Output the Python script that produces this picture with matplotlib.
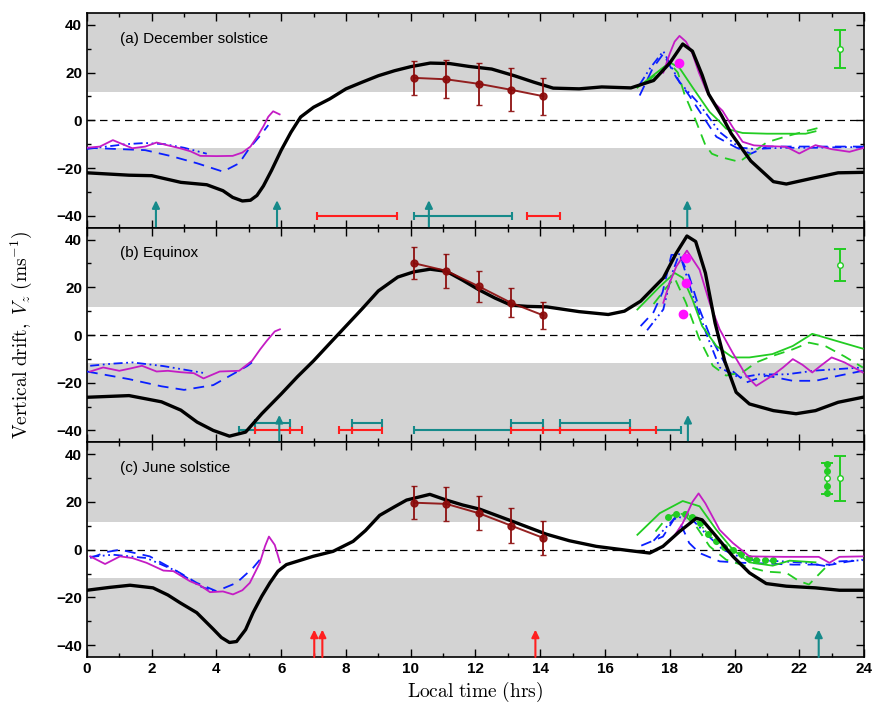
import matplotlib
matplotlib.use('Agg')
import matplotlib.pyplot as plt

plt.rcParams['font.family'] = ['Liberation Sans', 'DejaVu Sans']
plt.rcParams['mathtext.fontset'] = 'cm'
plt.rcParams['lines.solid_joinstyle'] = 'round'
plt.rcParams['lines.dash_joinstyle'] = 'round'

# ---------------- (a) December solstice ----------------
a_black_x = [0, 1.3, 2.0, 2.9, 3.7, 4.2, 4.5, 4.8, 5.05, 5.25, 5.45, 5.7, 6.0, 6.3, 6.6, 7.0, 7.5, 8.0, 8.5,
             9.0, 9.5, 10.0, 10.6, 11.2, 11.8, 12.5, 13.2, 13.8, 14.4, 15.2, 15.9, 16.8, 17.5, 18.0, 18.4,
             18.7, 19.0, 19.2, 19.6, 19.9, 20.5, 21.2, 21.6, 22.4, 23.2, 24]
a_black_v = [-22, -23, -23.2, -26, -27, -29.5, -32.3, -33.8, -33.5, -31.5, -27.5, -21, -12.5, -5, 1.4, 5.5,
             9, 13.2, 16, 18.7, 20.8, 22.5, 24, 23.8, 22.6, 21.5, 18.7, 16, 13.5, 13.2, 14, 13.6, 16.7, 24,
             32, 29, 19, 11, 2, -5.6, -17, -25.7, -26.7, -24.3, -22, -21.8]
a_mag_l_x = [0, 0.4, 0.8, 1.1, 1.4, 1.8, 2.15, 2.5, 2.9, 3.2, 3.5, 4.0, 4.5, 4.8, 5.05, 5.25, 5.45, 5.6, 5.75, 5.95]
a_mag_l_v = [-11.5, -11, -8.3, -10, -11.7, -11, -9.3, -10.5, -11.8, -13, -14.9, -15, -14.9, -13.5, -11, -7,
             -2.5, 1.5, 3.8, 2.5]
a_bdash_l_x = [0, 0.9, 1.8, 2.6, 3.4, 4.2, 4.7, 5.0, 5.4, 5.6]
a_bdash_l_v = [-11.5, -12, -12.5, -15, -18, -21.5, -18, -12, -5.6, -2]
a_bdd_l_x = [0, 0.6, 1.2, 1.8, 2.4, 3.0, 3.7]
a_bdd_l_v = [-12, -11, -10, -9.5, -10, -11.5, -14]
a_mag_r_x = [17.8, 18.0, 18.15, 18.3, 18.5, 18.7, 18.9, 19.13, 19.4, 19.63, 19.94, 20.25, 20.6, 21.0, 21.6,
             22.0, 22.5, 23.0, 23.55, 24]
a_mag_r_v = [20, 28, 33, 35.4, 33, 28, 20, 12.5, 7, 4, -2.8, -9, -10.5, -10.8, -11.1, -13.9, -10.4, -12.1,
             -13.2, -11.5]
a_gsol_x = [17.0, 17.5, 18.0, 18.3, 18.7, 19.0, 19.23, 19.5, 19.74, 20.25, 21.0, 21.6, 22.2, 22.5]
a_gsol_v = [13.7, 19, 24.3, 22, 13.9, 8, 3.5, 0, -3.5, -5.3, -5.6, -5.6, -5.6, -4.6]
a_gdash_x = [17.3, 17.7, 18.0, 18.25, 18.45, 18.8, 19.1, 19.3, 19.54, 20.15, 20.5, 21.0, 21.6, 22.1, 22.7]
a_gdash_v = [16, 21, 24, 20, 11.1, 0, -10.4, -14, -15.3, -17.4, -14, -9.2, -6.7, -4.9, -2.8]
a_bdash_r_x = [17.07, 17.47, 17.8, 18.2, 18.6, 18.9, 19.44, 20.05, 20.5, 21.0, 22.0, 23.0, 24]
a_bdash_r_v = [10.4, 21.7, 27.9, 18, 10.4, 4.2, -6.9, -11.4, -14, -11, -11, -11, -11]
a_bdd_r_x = [17.07, 17.4, 17.8, 18.3, 18.9, 19.54, 20.15, 20.6, 21.5, 22.5, 23.5, 24]
a_bdd_r_v = [15, 22, 29, 16, 7, -4.9, -11.4, -12, -11.5, -11.5, -11.2, -11.5]
a_dots_x = [18.3]
a_dots_v = [23.9]
a_err_v = [17.8, 17.2, 15.3, 12.8, 10.1]
a_err_e = [7, 8, 8.7, 9, 7.8]
a_sym = (23.26, 29.9, 8)
a_arrows_teal = [2.13, 5.87, 10.56, 18.54]
a_arrows_red = []
a_bars_lo_teal = [(10.09, 13.12)]
a_bars_lo_red = [(7.09, 9.57), (13.6, 14.6)]
a_bars_hi_teal = []

# ---------------- (b) Equinox ----------------
b_black_x = [0, 1.3, 2.3, 2.9, 3.4, 3.9, 4.4, 4.9, 5.4, 6.0, 6.5, 7.0, 7.5, 8.0, 8.5, 9.0, 9.6, 10.1, 10.6,
             11.1, 11.6, 12.1, 12.6, 13.1, 13.6, 14.2, 15.2, 16.1, 16.6, 17.1, 17.8, 18.2, 18.53, 18.8,
             19.1, 19.4, 19.7, 20.05, 20.46, 21.2, 21.9, 22.5, 23.2, 24]
b_black_v = [-26.1, -25.4, -28, -31.5, -36.5, -40, -42.4, -40.7, -33, -24.7, -17.5, -10.8, -3.5, 3.75, 11,
             18.5, 24.3, 26.5, 27.6, 26.7, 23, 19, 15.5, 12.5, 12, 11.8, 9.8, 8.6, 10, 14.2, 23.9, 34.3,
             41.5, 39.2, 26, 5, -11, -24, -28.9, -31.7, -33, -31.7, -28.2, -26]
b_mag_l_x = [0.1, 0.5, 1.0, 1.35, 1.7, 2.15, 2.5, 2.9, 3.3, 3.6, 4.1, 4.7, 5.1, 5.35, 5.55, 5.8, 5.96]
b_mag_l_v = [-15.3, -13.6, -15, -14, -12.9, -15.3, -15, -15.6, -16, -18.2, -15.3, -15, -10.8, -6, -2.5, 1.5, 2.4]
b_bdash_l_x = [0, 1.3, 2.3, 3.0, 3.9, 4.6, 4.95, 5.25]
b_bdash_l_v = [-15.3, -18.5, -21.5, -23, -21, -15.7, -13, -9.9]
b_bdd_l_x = [0.1, 0.8, 1.4, 2.35, 3.0, 3.6]
b_bdd_l_v = [-12.9, -12, -11.5, -13, -14.5, -15.9]
b_mag_r_x = [17.8, 18.0, 18.2, 18.53, 18.92, 19.23, 19.54, 19.94, 20.36, 20.67, 21.17, 21.5, 21.8, 22.1,
             22.4, 22.7, 23.0, 23.4, 23.96]
b_mag_r_v = [13.5, 22, 28.7, 35.4, 27.4, 13.5, 2.4, -7.4, -17, -21.3, -17, -13.6, -10.1, -12.5, -15.7,
             -12.5, -9.4, -11.5, -15.7]
b_gsol_x = [17.0, 17.7, 18.15, 18.4, 18.7, 19.0, 19.44, 19.94, 20.46, 21.17, 21.8, 22.4, 23.0, 23.96]
b_gsol_v = [10.7, 20.4, 26, 24, 14.9, 3.75, -4.6, -9.4, -9.4, -8, -4.6, 0.5, -1.9, -5.7]
b_gdash_x = [17.5, 17.9, 18.15, 18.5, 18.9, 19.33, 19.74, 20.25, 20.67, 21.17, 21.8, 22.3, 22.8, 23.4, 23.96]
b_gdash_v = [13, 20, 23.9, 13.5, -1.2, -12.9, -17, -15.6, -11.5, -8.8, -6, -3.2, -4.6, -9, -13.6]
b_bdash_r_x = [17.1, 17.5, 17.78, 18.05, 18.3, 18.6, 18.92, 19.23, 19.74, 20.36, 20.98, 21.8, 22.5, 23.24, 23.96]
b_bdash_r_v = [3.75, 9.6, 18, 33.6, 33.6, 24.6, 10.8, 0, -12.9, -19.9, -17, -19.2, -19.2, -17, -15]
b_bdd_r_x = [17.3, 17.8, 18.05, 18.3, 18.7, 19.13, 19.54, 20.15, 20.77, 21.6, 22.5, 23.96]
b_bdd_r_v = [2, 10.7, 25, 34.3, 17, 0.5, -13.6, -17.9, -16.5, -16.5, -14.9, -13.6]
b_dots_x = [18.5, 18.5, 18.4]
b_dots_v = [32.2, 21.8, 8.6]
b_err_v = [30.1, 26.9, 20.4, 13.5, 8.2]
b_err_e = [6.8, 7, 6.6, 6, 5.5]
b_sym = (23.26, 29.4, 6.7)
b_arrows_teal = [5.94, 18.56]
b_arrows_red = []
b_bars_lo_teal = [(4.69, 5.19), (10.09, 13.09), (17.58, 18.35)]
b_bars_lo_red = [(5.19, 6.27), (6.27, 6.63), (7.78, 8.2), (8.2, 9.1), (13.09, 14.1), (14.1, 14.6),
                 (14.6, 16.77), (16.77, 17.58)]
b_bars_hi_teal = [(5.19, 6.27), (8.2, 9.1), (13.09, 14.1), (14.6, 16.77)]

# ---------------- (c) June solstice ----------------
c_black_x = [0, 0.7, 1.33, 2.04, 2.5, 2.87, 3.39, 3.9, 4.15, 4.4, 4.62, 4.9, 5.13, 5.4, 5.65, 5.9, 6.16,
             6.98, 7.6, 8.22, 8.6, 9.04, 9.5, 9.87, 10.59, 11.1, 11.6, 12.13, 13.16, 14.19, 14.9, 15.73,
             16.76, 17.38, 17.79, 18.3, 18.82, 19.0, 19.44, 19.95, 20.46, 20.98, 21.6, 22.5, 23.24, 23.96]
c_black_v = [-17, -15.8, -14.9, -16, -19, -22.2, -26.4, -33.3, -36.8, -38.9, -38.5, -33.5, -26.4, -19.5,
             -13.9, -9, -6.25, -2.8, -0.7, 3.5, 8, 14.4, 18, 20.8, 23.2, 20.8, 18.75, 17, 11.8, 6.5, 3.75,
             1.4, -0.4, -1.4, 1.4, 7.6, 13.2, 12.5, 5.5, -2.8, -9.7, -14.2, -15.3, -16, -17, -17]
c_mag_l_x = [0.1, 0.56, 1.02, 1.4, 1.84, 2.36, 2.67, 3.18, 3.5, 3.8, 4.2, 4.51, 4.8, 5.03, 5.34, 5.5, 5.62,
             5.8, 5.96]
c_mag_l_v = [-2.8, -6, -2.8, -3.5, -5.5, -8.75, -9, -13.2, -15, -17.8, -17.5, -18.75, -17, -13.9, -5.5, 1.5,
             5.5, 2, -5.3]
c_bdash_l_x = [0.1, 0.6, 1.02, 1.94, 2.87, 3.39, 4.0, 4.62, 5.13, 5.34]
c_bdash_l_v = [-3.5, -1, 0, -2.8, -9.7, -13.9, -17.4, -13.9, -7.6, -4.2]
c_bdd_l_x = [0.1, 0.8, 1.84, 2.77, 3.49, 3.9]
c_bdd_l_v = [-3, -2.1, -3.5, -9, -15.3, -17.4]
c_mag_r_x = [17.79, 18.1, 18.4, 18.7, 18.89, 19.1, 19.54, 19.95, 20.46, 21.5, 22.6, 22.93, 23.24, 23.96]
c_mag_r_v = [1.4, 5, 11.1, 20, 23.6, 19.4, 8.3, 2.8, -2.8, -3, -3, -5.5, -3, -2.8]
c_gsol_x = [17.0, 17.69, 18.4, 18.92, 19.44, 19.95, 20.46, 21.18, 21.7, 22.5]
c_gsol_v = [6.25, 15.3, 20.4, 18.2, 8.3, 0, -5.3, -6.7, -4.6, -5.3]
c_gdash_x = [17.56, 17.94, 18.4, 18.82, 19.23, 19.74, 20.36, 20.98, 21.6, 22.0, 22.3, 22.6, 22.9]
c_gdash_v = [7.6, 13.9, 15.3, 9.7, 1.4, -4.2, -7, -9.2, -9.7, -13.2, -14.6, -10.4, -6.25]
c_gdot_x = [17.94, 18.2, 18.46, 18.69, 18.92, 19.18, 19.44, 19.69, 19.95, 20.21, 20.46, 20.67, 20.93, 21.18]
c_gdot_v = [13.9, 15, 15, 13.6, 11.1, 6.5, 3.5, 1.1, -0.3, -1.8, -3.5, -4.2, -4.4, -4.4]
c_bdash_r_x = [17.12, 17.79, 18.15, 18.35, 18.6, 18.92, 19.54, 20.25, 20.98, 21.8, 22.5, 23.0, 23.5, 23.96]
c_bdash_r_v = [1.7, 5.5, 13.2, 10.4, 2.8, -1.4, -4.9, -5.5, -5.8, -6.25, -6.25, -6.25, -5, -4.2]
c_bdd_r_x = [17.5, 18.2, 18.7, 19.1, 19.64, 20.36, 21.5, 22.2, 22.83, 23.24, 23.96]
c_bdd_r_v = [3.75, 13.9, 12.5, 6.9, 0, -4.2, -4.9, -5.5, -6.9, -4.9, -4.4]
c_err_v = [19.7, 19.2, 15.3, 10.1, 4.9]
c_err_e = [6.8, 7.2, 7.1, 7.3, 7.3]
c_sym = (23.26, 29.9, 9.5)
c_sym_dot = (22.86, 29.9, 6.5)
c_sym_dot_marks = [35.8, 32.9, 26.8, 23.9]
c_arrows_teal = [22.6]
c_arrows_red = [7.02, 7.27, 13.85]

err_x = [10.1, 11.1, 12.1, 13.1, 14.1]
titles = ['(a) December solstice', '(b) Equinox', '(c) June solstice']

TEAL = '#168a8a'
RED = '#ff1f1f'
BROWN = '#8b0a0a'
MAG = '#c41cc4'
BLUE = '#0a1fff'
GREEN = '#22cc22'
DD = (0, (5, 2, 1, 2, 1, 2))

panels = [
    dict(black=(a_black_x, a_black_v), mag_l=(a_mag_l_x, a_mag_l_v), bdash_l=(a_bdash_l_x, a_bdash_l_v),
         bdd_l=(a_bdd_l_x, a_bdd_l_v), mag_r=(a_mag_r_x, a_mag_r_v), gsol=(a_gsol_x, a_gsol_v),
         gdash=(a_gdash_x, a_gdash_v), bdash_r=(a_bdash_r_x, a_bdash_r_v), bdd_r=(a_bdd_r_x, a_bdd_r_v),
         dots=(a_dots_x, a_dots_v), err=(a_err_v, a_err_e), sym=a_sym, at=a_arrows_teal, ar=a_arrows_red,
         lo_teal=a_bars_lo_teal, lo_red=a_bars_lo_red, hi_teal=a_bars_hi_teal),
    dict(black=(b_black_x, b_black_v), mag_l=(b_mag_l_x, b_mag_l_v), bdash_l=(b_bdash_l_x, b_bdash_l_v),
         bdd_l=(b_bdd_l_x, b_bdd_l_v), mag_r=(b_mag_r_x, b_mag_r_v), gsol=(b_gsol_x, b_gsol_v),
         gdash=(b_gdash_x, b_gdash_v), bdash_r=(b_bdash_r_x, b_bdash_r_v), bdd_r=(b_bdd_r_x, b_bdd_r_v),
         dots=(b_dots_x, b_dots_v), err=(b_err_v, b_err_e), sym=b_sym, at=b_arrows_teal, ar=b_arrows_red,
         lo_teal=b_bars_lo_teal, lo_red=b_bars_lo_red, hi_teal=b_bars_hi_teal),
    dict(black=(c_black_x, c_black_v), mag_l=(c_mag_l_x, c_mag_l_v), bdash_l=(c_bdash_l_x, c_bdash_l_v),
         bdd_l=(c_bdd_l_x, c_bdd_l_v), mag_r=(c_mag_r_x, c_mag_r_v), gsol=(c_gsol_x, c_gsol_v),
         gdash=(c_gdash_x, c_gdash_v), bdash_r=(c_bdash_r_x, c_bdash_r_v), bdd_r=(c_bdd_r_x, c_bdd_r_v),
         dots=([], []), err=(c_err_v, c_err_e), sym=c_sym, at=c_arrows_teal, ar=c_arrows_red,
         lo_teal=[], lo_red=[], hi_teal=[]),
]

fig = plt.figure(figsize=(8.74, 7.10), dpi=100)
axes = fig.subplots(3, 1, sharex=True)
fig.subplots_adjust(left=0.0995, right=0.9886, top=0.9817, bottom=0.0746, hspace=0)

for i, (ax, p) in enumerate(zip(axes, panels)):
    ax.set_xlim(0, 24)
    ax.set_ylim(-45, 45)
    ax.axhspan(11.7, 45, color='#d3d3d3', lw=0, zorder=0)
    ax.axhspan(-45, -11.7, color='#d3d3d3', lw=0, zorder=0)
    ax.axhline(0, color='black', ls=(0, (6, 4)), lw=0.9, zorder=1)

    # horizontal interval bars
    for segs, lvl, col in [(p['lo_teal'], -40, TEAL), (p['lo_red'], -40, RED), (p['hi_teal'], -37, TEAL)]:
        for s, e in segs:
            ax.errorbar((s + e) / 2, lvl, xerr=(e - s) / 2, fmt='none', ecolor=col, elinewidth=1.5,
                        capsize=3, capthick=1.5, zorder=3)
    for xs, col in [(p['at'], TEAL), (p['ar'], RED)]:
        for x in xs:
            ax.annotate('', xy=(x, -33.5), xytext=(x, -45),
                        arrowprops=dict(arrowstyle='-|>,head_width=0.22,head_length=0.45', color=col,
                                        lw=1.5, shrinkA=0, shrinkB=0), zorder=4)

    ax.plot(*p['bdash_l'], color=BLUE, lw=1.3, ls=(0, (6, 4)), zorder=5)
    ax.plot(*p['bdd_l'], color=BLUE, lw=1.3, ls=DD, zorder=5)
    ax.plot(*p['mag_l'], color=MAG, lw=1.3, zorder=6)
    ax.plot(*p['bdash_r'], color=BLUE, lw=1.3, ls=(0, (6, 4)), zorder=5)
    ax.plot(*p['bdd_r'], color=BLUE, lw=1.3, ls=DD, zorder=5)
    ax.plot(*p['gsol'], color=GREEN, lw=1.3, zorder=5)
    ax.plot(*p['gdash'], color=GREEN, lw=1.3, ls=(0, (6, 4)), zorder=5)
    if i == 2:
        ax.plot(c_gdot_x, c_gdot_v, color=GREEN, lw=1.2, ls=':', marker='o', ms=4, zorder=5)
    ax.plot(*p['mag_r'], color=MAG, lw=1.3, zorder=6)
    ax.plot(*p['black'], color='black', lw=2.4, zorder=7)
    ax.plot(*p['dots'], 'o', color='#ff10ff', ms=6, zorder=8)
    ev, ee = p['err']
    ax.errorbar(err_x, ev, yerr=ee, color=BROWN, lw=1.4, marker='o', ms=5, capsize=2, capthick=1,
                alpha=0.9, zorder=8)

    sx, sv, se = p['sym']
    ax.errorbar(sx, sv, yerr=se, fmt='o', mfc='white', mec=GREEN, color=GREEN, ms=4, lw=1.4,
                capsize=4, capthick=1.4, zorder=8)
    if i == 2:
        dx, dv, de = c_sym_dot
        ax.errorbar(dx, dv, yerr=de, fmt='o', mfc='white', mec=GREEN, ecolor=GREEN, ms=4, lw=1.2,
                    ls=':', capsize=4, capthick=1.4, zorder=8)
        ax.plot([dx] * len(c_sym_dot_marks), c_sym_dot_marks, 'o', color=GREEN, ms=4, zorder=8)

    ax.text(0.042, 0.88, titles[i], transform=ax.transAxes, fontsize=11, va='center')

    ax.set_xticks(range(0, 25, 2))
    ax.set_xticks(range(0, 25, 1), minor=True)
    ax.set_yticks([-40, -20, 0, 20, 40])
    ax.set_yticks([-30, -10, 10, 30], minor=True)
    ax.tick_params(which='both', direction='in', top=True, right=True, width=1)
    ax.tick_params(which='major', length=6, labelsize=11)
    ax.tick_params(which='minor', length=3)
    for lab in ax.get_xticklabels() + ax.get_yticklabels():
        lab.set_fontweight('bold')
    for sp in ax.spines.values():
        sp.set_linewidth(1.2)

axes[2].set_xlabel(r'$\mathrm{Local\ time\ (hrs)}$', fontsize=14, labelpad=3)
fig.text(0.024, 0.528, r'$\mathrm{Vertical\ drift,}\ V_z\ (\mathrm{ms}^{-1})$', rotation=90,
         fontsize=14, ha='center', va='center')

fig.savefig('out.png', dpi=100)
